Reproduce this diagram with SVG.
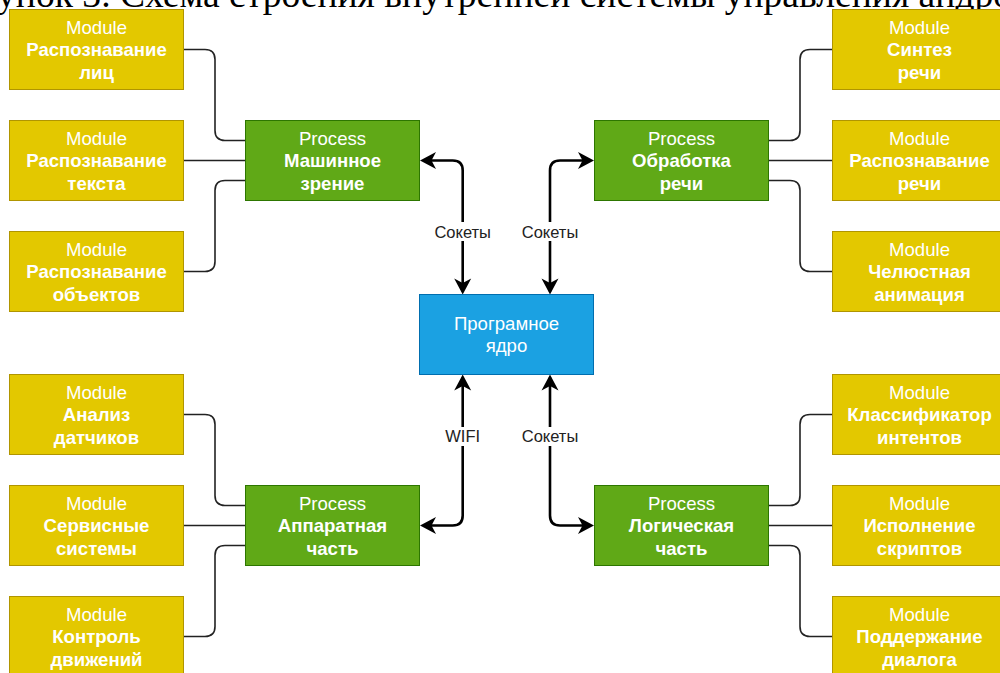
<svg xmlns="http://www.w3.org/2000/svg" width="1000" height="673" viewBox="0 0 1000 673">
<defs>
<style>
.mod{fill:#e3c800;stroke:#b09500;stroke-width:1}
.proc{fill:#60a917;stroke:#2d7600;stroke-width:1}
.core{fill:#1ba1e2;stroke:#006eaf;stroke-width:1}
.t{font-family:"Liberation Sans",Arial,sans-serif;font-size:18.6px;fill:#ffffff;text-anchor:middle}
.b{font-weight:bold}
.thin{fill:none;stroke:#222;stroke-width:1.6}
.thick{fill:none;stroke:#000;stroke-width:2.6;marker-start:url(#arr);marker-end:url(#arr)}
.lbl{font-family:"Liberation Sans",Arial,sans-serif;font-size:16.5px;fill:#222;text-anchor:middle}
.lblbg{fill:#ffffff}
</style>
<marker id="arr" markerUnits="userSpaceOnUse" viewBox="-18 -10 20 20" markerWidth="20" markerHeight="20" refX="-3" refY="0" orient="auto-start-reverse" overflow="visible">
<path d="M0,0 L-16,-8.5 L-11.5,0 L-16,8.5 Z" fill="#000"/>
</marker>
</defs>
<rect width="1000" height="673" fill="#ffffff"/>
<text x="-3" y="7" font-family="Liberation Serif, Times New Roman, serif" font-size="37.6" fill="#000">унок 3. Схема строения внутренней системы управления андро</text>

<g id="connectors">
<path class="thin" d="M184,49.5 H205 Q215,49.5 215,59.5 V130.5 Q215,140.5 225,140.5 H245"/>
<path class="thin" d="M184,160.5 H245"/>
<path class="thin" d="M184,271.5 H205 Q215,271.5 215,261.5 V190.5 Q215,180.5 225,180.5 H245"/>
<path class="thin" d="M769,140.5 H790 Q800,140.5 800,130.5 V59.5 Q800,49.5 810,49.5 H832"/>
<path class="thin" d="M769,160.5 H832"/>
<path class="thin" d="M769,180.5 H790 Q800,180.5 800,190.5 V261.5 Q800,271.5 810,271.5 H832"/>
<path class="thin" d="M184,414.5 H205 Q215,414.5 215,424.5 V495.5 Q215,505.5 225,505.5 H245"/>
<path class="thin" d="M184,525.5 H245"/>
<path class="thin" d="M184,636.5 H205 Q215,636.5 215,626.5 V555.5 Q215,545.5 225,545.5 H245"/>
<path class="thin" d="M769,505.5 H790 Q800,505.5 800,495.5 V424.5 Q800,414.5 810,414.5 H832"/>
<path class="thin" d="M769,525.5 H832"/>
<path class="thin" d="M769,545.5 H790 Q800,545.5 800,555.5 V626.5 Q800,636.5 810,636.5 H832"/>
<path class="thick" d="M423,160.5 H452.7 Q462.7,160.5 462.7,170.5 V291.5"/>
<path class="thick" d="M591,160.5 H560 Q550,160.5 550,170.5 V291.5"/>
<path class="thick" d="M423,525.5 H452.7 Q462.7,525.5 462.7,515.5 V377.5"/>
<path class="thick" d="M591,525.5 H560 Q550,525.5 550,515.5 V377.5"/>
<rect class="lblbg" x="431" y="222" width="64" height="19"/>
<text class="lbl" x="462.7" y="237.5">Сокеты</text>
<rect class="lblbg" x="518" y="222" width="64" height="19"/>
<text class="lbl" x="550" y="237.5">Сокеты</text>
<rect class="lblbg" x="442" y="427" width="42" height="19"/>
<text class="lbl" x="462.7" y="442">WIFI</text>
<rect class="lblbg" x="518" y="427" width="64" height="19"/>
<text class="lbl" x="550" y="442">Сокеты</text>
</g>

<g id="core">
<rect class="core" x="419.5" y="294.5" width="174" height="80"/>
<text class="t" x="506.5" y="330">Програмное</text>
<text class="t" x="506.5" y="352.3">ядро</text>
</g>

<g id="proc-vision">
<rect class="proc" x="245.5" y="120.5" width="174" height="80"/>
<text class="t" x="332.5" y="145">Process</text>
<text class="t b" x="332.5" y="167.3">Машинное</text>
<text class="t b" x="332.5" y="189.6">зрение</text>
</g>
<g id="proc-speech">
<rect class="proc" x="594.5" y="120.5" width="174" height="80"/>
<text class="t" x="681.5" y="145">Process</text>
<text class="t b" x="681.5" y="167.3">Обработка</text>
<text class="t b" x="681.5" y="189.6">речи</text>
</g>
<g id="proc-hardware">
<rect class="proc" x="245.5" y="485.5" width="174" height="80"/>
<text class="t" x="332.5" y="510">Process</text>
<text class="t b" x="332.5" y="532.3">Аппаратная</text>
<text class="t b" x="332.5" y="554.6">часть</text>
</g>
<g id="proc-logic">
<rect class="proc" x="594.5" y="485.5" width="174" height="80"/>
<text class="t" x="681.5" y="510">Process</text>
<text class="t b" x="681.5" y="532.3">Логическая</text>
<text class="t b" x="681.5" y="554.6">часть</text>
</g>

<g id="mod-faces">
<rect class="mod" x="9.5" y="9.5" width="174" height="80"/>
<text class="t" x="96.5" y="34">Module</text>
<text class="t b" x="96.5" y="56.3">Распознавание</text>
<text class="t b" x="96.5" y="78.6">лиц</text>
</g>
<g id="mod-text">
<rect class="mod" x="9.5" y="120.5" width="174" height="80"/>
<text class="t" x="96.5" y="145">Module</text>
<text class="t b" x="96.5" y="167.3">Распознавание</text>
<text class="t b" x="96.5" y="189.6">текста</text>
</g>
<g id="mod-objects">
<rect class="mod" x="9.5" y="231.5" width="174" height="80"/>
<text class="t" x="96.5" y="256">Module</text>
<text class="t b" x="96.5" y="278.3">Распознавание</text>
<text class="t b" x="96.5" y="300.6">объектов</text>
</g>
<g id="mod-sensors">
<rect class="mod" x="9.5" y="374.5" width="174" height="80"/>
<text class="t" x="96.5" y="399">Module</text>
<text class="t b" x="96.5" y="421.3">Анализ</text>
<text class="t b" x="96.5" y="443.6">датчиков</text>
</g>
<g id="mod-service">
<rect class="mod" x="9.5" y="485.5" width="174" height="80"/>
<text class="t" x="96.5" y="510">Module</text>
<text class="t b" x="96.5" y="532.3">Сервисные</text>
<text class="t b" x="96.5" y="554.6">системы</text>
</g>
<g id="mod-motion">
<rect class="mod" x="9.5" y="596.5" width="174" height="80"/>
<text class="t" x="96.5" y="621">Module</text>
<text class="t b" x="96.5" y="643.3">Контроль</text>
<text class="t b" x="96.5" y="665.6">движений</text>
</g>

<g id="mod-synth">
<rect class="mod" x="832.5" y="9.5" width="174" height="80"/>
<text class="t" x="919.5" y="34">Module</text>
<text class="t b" x="919.5" y="56.3">Синтез</text>
<text class="t b" x="919.5" y="78.6">речи</text>
</g>
<g id="mod-asr">
<rect class="mod" x="832.5" y="120.5" width="174" height="80"/>
<text class="t" x="919.5" y="145">Module</text>
<text class="t b" x="919.5" y="167.3">Распознавание</text>
<text class="t b" x="919.5" y="189.6">речи</text>
</g>
<g id="mod-jaw">
<rect class="mod" x="832.5" y="231.5" width="174" height="80"/>
<text class="t" x="919.5" y="256">Module</text>
<text class="t b" x="919.5" y="278.3">Челюстная</text>
<text class="t b" x="919.5" y="300.6">анимация</text>
</g>
<g id="mod-intent">
<rect class="mod" x="832.5" y="374.5" width="174" height="80"/>
<text class="t" x="919.5" y="399">Module</text>
<text class="t b" x="919.5" y="421.3">Классификатор</text>
<text class="t b" x="919.5" y="443.6">интентов</text>
</g>
<g id="mod-scripts">
<rect class="mod" x="832.5" y="485.5" width="174" height="80"/>
<text class="t" x="919.5" y="510">Module</text>
<text class="t b" x="919.5" y="532.3">Исполнение</text>
<text class="t b" x="919.5" y="554.6">скриптов</text>
</g>
<g id="mod-dialog">
<rect class="mod" x="832.5" y="596.5" width="174" height="80"/>
<text class="t" x="919.5" y="621">Module</text>
<text class="t b" x="919.5" y="643.3">Поддержание</text>
<text class="t b" x="919.5" y="665.6">диалога</text>
</g>
</svg>
